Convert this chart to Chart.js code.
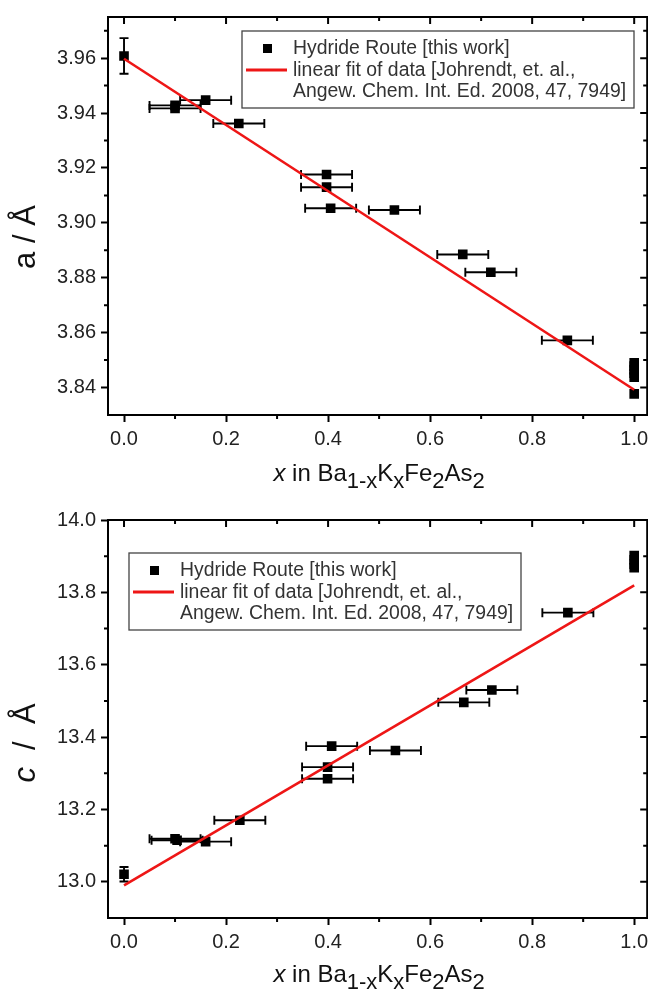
<!DOCTYPE html>
<html>
<head>
<meta charset="utf-8">
<script src="https://cdn.jsdelivr.net/npm/chart.js@4.4.0/dist/chart.umd.min.js"></script>
<style>
  body { margin: 0; background: #fff; overflow: hidden; }
  .panel { position: absolute; left: 0; width: 654px; height: 495px; }
</style>
</head>
<body>
<div class="panel" style="top:0"><canvas id="chartA"></canvas></div>
<div class="panel" style="top:495px"><canvas id="chartC"></canvas></div>
<script>
// x in Ba(1-x)K(x)Fe2As2
const xA      = [0, 0.100, 0.100, 0.160, 0.225, 0.397, 0.397, 0.405, 0.530, 0.664, 0.719, 0.869, 1, 1, 1, 1, 1, 1];
const aLattice = [3.9608, 3.9428, 3.9417, 3.9447, 3.9362, 3.9176, 3.9130, 3.9053, 3.9047, 3.8885, 3.8820, 3.8572,
                  3.8490, 3.8478, 3.8465, 3.8452, 3.8438, 3.8377];
const aXErr   = [0, 0.05, 0.05, 0.05, 0.05, 0.05, 0.05, 0.05, 0.05, 0.05, 0.05, 0.05, 0, 0, 0, 0, 0, 0];
const aYErr   = [0.0065, 0, 0, 0, 0, 0, 0, 0, 0, 0, 0, 0, 0, 0, 0, 0, 0, 0];

const xC      = [0, 0.100, 0.104, 0.160, 0.227, 0.399, 0.399, 0.407, 0.532, 0.666, 0.721, 0.870, 1, 1, 1, 1];
const cLattice = [13.021, 13.119, 13.115, 13.111, 13.170, 13.317, 13.285, 13.375, 13.363, 13.496, 13.530, 13.744,
                  13.902, 13.890, 13.878, 13.868];
const cXErr   = [0, 0.05, 0.05, 0.05, 0.05, 0.05, 0.05, 0.05, 0.05, 0.05, 0.05, 0.05, 0, 0, 0, 0];
const cYErr   = [0.02, 0, 0, 0, 0, 0, 0, 0, 0, 0, 0, 0, 0, 0, 0, 0];

// linear fit (Johrendt et al.)
const fitX = [0, 1];
const aFit = [3.9598, 3.8392];
const cFit = [12.990, 13.819];

const xTicks = [0, 0.2, 0.4, 0.6, 0.8, 1.0];
const aTicks = [3.84, 3.86, 3.88, 3.90, 3.92, 3.94, 3.96];
const cTicks = [13.0, 13.2, 13.4, 13.6, 13.8, 14.0];

const legendLines = ['Hydride Route [this work]', 'linear fit of data [Johrendt, et. al.,', 'Angew. Chem. Int. Ed. 2008, 47, 7949]'];

const FONT = '"Liberation Sans", Arial, sans-serif';
const RED = 'rgb(238,22,22)';

function minorValues(major, min, max) {
  const step = major[1] - major[0], out = [];
  for (let i = -1; i < major.length; i++) {
    const v = major[0] + step * (i + 0.5);
    if (v > min + 1e-9 && v < max - 1e-9) out.push(v);
  }
  return out;
}

// error bars drawn under the squares
const errorBars = {
  id: 'errorBars',
  beforeDatasetsDraw(chart) {
    const { ctx, scales: { x, y } } = chart;
    ctx.save();
    ctx.strokeStyle = '#000';
    ctx.lineWidth = 1.9;
    chart.data.datasets.forEach(ds => {
      if (!ds.xErr) return;
      ds.data.forEach((p, i) => {
        const px = x.getPixelForValue(p.x), py = y.getPixelForValue(p.y);
        ctx.beginPath();
        if (ds.xErr[i]) {
          const l = x.getPixelForValue(p.x - ds.xErr[i]), r = x.getPixelForValue(p.x + ds.xErr[i]);
          ctx.moveTo(l, py); ctx.lineTo(r, py);
          ctx.moveTo(l, py - 4.5); ctx.lineTo(l, py + 4.5);
          ctx.moveTo(r, py - 4.5); ctx.lineTo(r, py + 4.5);
        }
        if (ds.yErr[i]) {
          const t = y.getPixelForValue(p.y + ds.yErr[i]), b = y.getPixelForValue(p.y - ds.yErr[i]);
          ctx.moveTo(px, t); ctx.lineTo(px, b);
          ctx.moveTo(px - 4.5, t); ctx.lineTo(px + 4.5, t);
          ctx.moveTo(px - 4.5, b); ctx.lineTo(px + 4.5, b);
        }
        ctx.stroke();
      });
    });
    ctx.restore();
  }
};

// top/right frame, minor ticks and inward ticks
const frame = {
  id: 'frame',
  afterDraw(chart) {
    const { ctx, chartArea: a, scales: { x, y } } = chart;
    const xMaj = x.ticks.map(t => t.value), yMaj = y.ticks.map(t => t.value);
    ctx.save();
    ctx.strokeStyle = '#000';
    ctx.lineWidth = 2;
    ctx.beginPath();
    ctx.moveTo(a.left - 1, a.top); ctx.lineTo(a.right + 1, a.top);
    ctx.moveTo(a.right, a.top); ctx.lineTo(a.right, a.bottom + 1);
    xMaj.forEach(v => {
      const p = x.getPixelForValue(v);
      ctx.moveTo(p, a.top); ctx.lineTo(p, a.top + 7);
    });
    minorValues(xMaj, x.min, x.max).forEach(v => {
      const p = x.getPixelForValue(v);
      ctx.moveTo(p, a.top); ctx.lineTo(p, a.top + 4);
      ctx.moveTo(p, a.bottom); ctx.lineTo(p, a.bottom + 4);
    });
    yMaj.forEach(v => {
      const p = y.getPixelForValue(v);
      ctx.moveTo(a.right, p); ctx.lineTo(a.right - 7, p);
    });
    minorValues(yMaj, y.min, y.max).forEach(v => {
      const p = y.getPixelForValue(v);
      ctx.moveTo(a.left, p); ctx.lineTo(a.left - 4, p);
      ctx.moveTo(a.right, p); ctx.lineTo(a.right - 4, p);
    });
    ctx.stroke();
    ctx.restore();
  }
};

const legendBox = {
  id: 'legendBox',
  afterDraw(chart, args, o) {
    const { ctx, chartArea: a } = chart;
    const L = a.left + o.dx, T = a.top + o.dy;
    ctx.save();
    ctx.strokeStyle = '#444';
    ctx.lineWidth = 1.3;
    ctx.strokeRect(L, T, o.w, o.h);
    ctx.fillStyle = '#000';
    ctx.fillRect(L + 21, T + 13, 9, 9);
    ctx.strokeStyle = RED;
    ctx.lineWidth = 3;
    ctx.beginPath(); ctx.moveTo(L + 4, T + 39); ctx.lineTo(L + 45, T + 39); ctx.stroke();
    ctx.fillStyle = '#333';
    ctx.font = '19.4px ' + FONT;
    ctx.textBaseline = 'middle';
    o.lines.forEach((s, i) => ctx.fillText(s, L + 51, T + 18 + i * 21.5));
    ctx.restore();
  }
};

function drawRuns(ctx, runs, x0, y0) {
  let x = x0;
  runs.forEach(r => {
    ctx.font = (r.it ? 'italic ' : '') + r.size + 'px ' + FONT;
    ctx.fillText(r.t, x, y0 + (r.dy || 0));
    x += ctx.measureText(r.t).width;
  });
}
function runsWidth(ctx, runs) {
  let w = 0;
  runs.forEach(r => {
    ctx.font = (r.it ? 'italic ' : '') + r.size + 'px ' + FONT;
    w += ctx.measureText(r.t).width;
  });
  return w;
}

const xTitleRuns = [
  { t: 'x', it: true, size: 24 }, { t: ' in Ba', size: 24 }, { t: '1-x', size: 22, dy: 7 },
  { t: 'K', size: 24 }, { t: 'x', size: 22, dy: 7 }, { t: 'Fe', size: 24 }, { t: '2', size: 22, dy: 7 },
  { t: 'As', size: 24 }, { t: '2', size: 22, dy: 7 }
];

const axisTitles = {
  id: 'axisTitles',
  afterDraw(chart, args, o) {
    const { ctx, chartArea: a, scales: { x } } = chart;
    ctx.save();
    ctx.fillStyle = '#111';
    ctx.textBaseline = 'alphabetic';
    const w = runsWidth(ctx, xTitleRuns);
    drawRuns(ctx, xTitleRuns, x.getPixelForValue(0.5) - w / 2, a.bottom + o.xDy);
    ctx.translate(a.left - o.yDx, (a.top + a.bottom) / 2 + o.yDy);
    ctx.rotate(-Math.PI / 2);
    const wy = runsWidth(ctx, o.yRuns);
    drawRuns(ctx, o.yRuns, -wy / 2, 0);
    ctx.restore();
  }
};

function makeChart(id, xs, ys, xErr, yErr, fit, yTicks, yMin, yMax, digits, topPad, xHeight, legendPos, yRuns, yDy, xDy) {
  return new Chart(document.getElementById(id), {
    type: 'scatter',
    data: {
      datasets: [
        {
          label: legendLines[0],
          data: xs.map((v, i) => ({ x: v, y: ys[i] })),
          xErr: xErr, yErr: yErr,
          pointStyle: 'rect', pointRadius: 6.8, pointHoverRadius: 6.8,
          backgroundColor: '#000', borderColor: '#000', borderWidth: 0,
          order: 2
        },
        {
          label: legendLines[1],
          type: 'line',
          data: fitX.map((v, i) => ({ x: v, y: fit[i] })),
          borderColor: RED, borderWidth: 2.6, pointRadius: 0, fill: false,
          order: 1
        }
      ]
    },
    options: {
      responsive: true,
      maintainAspectRatio: false,
      animation: false,
      devicePixelRatio: 1,
      layout: { padding: { left: 0, right: 0, top: topPad, bottom: 0 } },
      plugins: {
        legend: { display: false },
        tooltip: { enabled: false },
        legendBox: Object.assign({ lines: legendLines }, legendPos),
        axisTitles: { xDy: xDy, yDx: 73, yDy: yDy, yRuns: yRuns }
      },
      scales: {
        x: {
          type: 'linear', min: -0.0314, max: 1.0255,
          afterBuildTicks: s => { s.ticks = xTicks.map(v => ({ value: v })); },
          afterFit: s => { s.height = xHeight; },
          ticks: { font: { family: FONT, size: 20 }, color: '#222', padding: 5, maxRotation: 0, autoSkip: false,
                   callback: v => Number(v).toFixed(1) },
          grid: { drawOnChartArea: false, drawTicks: true, tickLength: 7, tickWidth: 2, tickColor: '#000' },
          border: { display: true, color: '#000', width: 2 }
        },
        y: {
          type: 'linear', min: yMin, max: yMax,
          afterBuildTicks: s => { s.ticks = yTicks.map(v => ({ value: v })); },
          afterFit: s => { s.width = 108; },
          ticks: { font: { family: FONT, size: 20 }, color: '#222', padding: 5, autoSkip: false,
                   callback: v => Number(v).toFixed(digits) },
          grid: { drawOnChartArea: false, drawTicks: true, tickLength: 7, tickWidth: 2, tickColor: '#000' },
          border: { display: true, color: '#000', width: 2 }
        }
      }
    },
    plugins: [errorBars, frame, legendBox, axisTitles]
  });
}

makeChart('chartA', xA, aLattice, aXErr, aYErr, aFit, aTicks, 3.83, 3.975, 2, 16, 80,
  { dx: 134, dy: 14, w: 392, h: 77 },
  [{ t: 'a / Å', size: 31 }], 21, 66);

makeChart('chartC', xC, cLattice, cXErr, cYErr, cFit, cTicks, 12.9, 14.0, 1, 25, 72,
  { dx: 21, dy: 33, w: 392, h: 77 },
  [{ t: 'c', it: true, size: 31 }, { t: '  /  Å', size: 31 }], 24, 64);
</script>
</body>
</html>
